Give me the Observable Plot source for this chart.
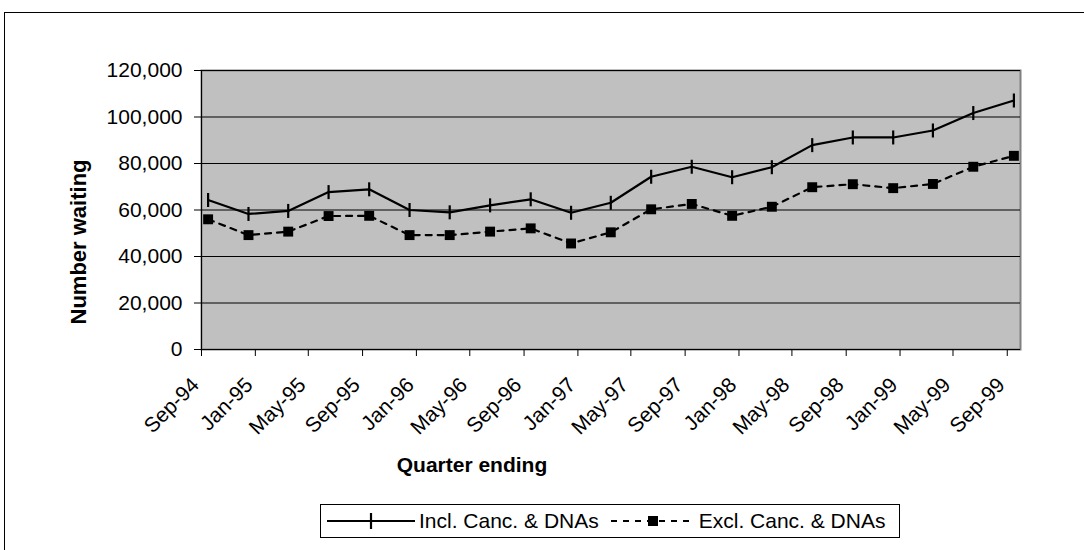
<!DOCTYPE html>
<html>
<head>
<meta charset="utf-8">
<script src="https://cdn.jsdelivr.net/npm/d3@7"></script>
<script src="https://cdn.jsdelivr.net/npm/@observablehq/plot@0.6"></script>
<style>
  body { margin: 0; background: #fff; font-family: "Liberation Sans", Arial, sans-serif; }
  #outer { position: absolute; left: 4px; top: 12px; width: 1200px; height: 700px; border-left: 1.5px solid #000; border-top: 1.5px solid #000; box-sizing: border-box; }
  #chart { position: absolute; left: 0; top: 0; }
  #ylab { position: absolute; left: 79px; top: 242px; transform: translate(-50%, -50%) rotate(-90deg); font-weight: bold; font-size: 22px; white-space: nowrap; }
  #xlab { position: absolute; left: 472px; top: 465px; transform: translate(-50%, -50%); font-weight: bold; font-size: 21px; white-space: nowrap; }
  #legend { position: absolute; left: 320px; top: 504px; width: 580px; height: 34px; border: 1px solid #000; box-sizing: border-box; display: flex; align-items: center; font-size: 21px; background: #fff; }
  #legend svg { display: block; flex: none; }
  #legend span { white-space: nowrap; }
</style>
</head>
<body>
<div id="outer"></div>
<div id="chart"></div>
<div id="ylab">Number waiting</div>
<div id="xlab">Quarter ending</div>
<div id="legend"></div>
<script>
// ---- data ----
const quarters = ["Sep-94","Dec-94","Mar-95","Jun-95","Sep-95","Dec-95","Mar-96","Jun-96","Sep-96","Dec-96","Mar-97","Jun-97","Sep-97","Dec-97","Mar-98","Jun-98","Sep-98","Dec-98","Mar-99","Jun-99","Sep-99"];
const inclCanc = [64300,58300,59600,67700,68900,60000,59000,62000,64600,58800,63100,74300,78600,74100,78400,87900,91200,91200,94200,101700,107100];
const exclCanc = [56000,49200,50700,57400,57500,49200,49200,50700,52100,45600,50400,60300,62600,57500,61400,69800,71100,69400,71200,78600,83300];
const xTickLabels = ["Sep-94","Jan-95","May-95","Sep-95","Jan-96","May-96","Sep-96","Jan-97","May-97","Sep-97","Jan-98","May-98","Sep-98","Jan-99","May-99","Sep-99"];
const yTicks = [0,20000,40000,60000,80000,100000,120000];
const seriesNames = ["Incl. Canc. & DNAs", "Excl. Canc. & DNAs"];

// ---- build ----
const parse = d3.timeParse("%b-%y");
const fmt = d3.timeFormat("%b-%y");
const midMonth = d => new Date((+d + +d3.timeMonth.offset(d, 1)) / 2);
const rowsIncl = quarters.map((q, i) => ({date: midMonth(parse(q)), value: inclCanc[i]}));
const rowsExcl = quarters.map((q, i) => ({date: midMonth(parse(q)), value: exclCanc[i]}));
const tickDates = xTickLabels.map(parse);
const xDomain = [parse(xTickLabels[0]), d3.timeMonth.offset(parse(xTickLabels[xTickLabels.length - 1]), 1)];

const vbar = {
  draw(context, size) {
    const r = Math.sqrt(size / Math.PI);
    context.moveTo(0, -r);
    context.lineTo(0, r);
  }
};

const chart = Plot.plot({
  width: 1084,
  height: 500,
  marginLeft: 201,
  marginRight: 64,
  marginTop: 70,
  marginBottom: 151,
  style: {fontFamily: "'Liberation Sans', Arial, sans-serif", fontSize: "21px", color: "#000", background: "transparent"},
  x: {type: "time", domain: xDomain},
  y: {domain: [0, 120000]},
  marks: [
    Plot.frame({fill: "#c0c0c0", stroke: "#808080", strokeWidth: 2}),
    Plot.ruleY(yTicks.slice(1), {stroke: "#000", strokeWidth: 1}),
    Plot.ruleY([0], {stroke: "#000", strokeWidth: 1}),
    Plot.ruleX([xDomain[0]], {stroke: "#000", strokeWidth: 1}),
    Plot.axisY({ticks: yTicks, tickFormat: d3.format(","), tickSize: 7, tickPadding: 12, label: null}),
    Plot.axisX({ticks: tickDates, tickFormat: fmt, tickSize: 7, label: null, text: null}),
    Plot.axisX({ticks: tickDates, tickFormat: fmt, tickRotate: -45, tickSize: 0, tickPadding: 32, dx: -6, label: null}),
    Plot.line(rowsExcl, {x: "date", y: "value", stroke: "#000", strokeWidth: 2.2, strokeDasharray: "6,6"}),
    Plot.dot(rowsExcl, {x: "date", y: "value", symbol: "square", r: 5.6, fill: "#000", stroke: "none"}),
    Plot.line(rowsIncl, {x: "date", y: "value", stroke: "#000", strokeWidth: 2.2}),
    Plot.dot(rowsIncl, {x: "date", y: "value", symbol: vbar, r: 7, fill: "none", stroke: "#000", strokeWidth: 2.2})
  ]
});
document.getElementById("chart").appendChild(chart);

// ---- legend ----
const legend = document.getElementById("legend");
legend.innerHTML = `
  <svg width="92" height="20" style="margin-left:6px"><line x1="0" y1="10" x2="88" y2="10" stroke="#000" stroke-width="2"/><line x1="44" y1="2" x2="44" y2="18" stroke="#000" stroke-width="2.2"/></svg>
  <span>${seriesNames[0]}</span>
  <svg width="100" height="20"><line x1="12" y1="10" x2="96" y2="10" stroke="#000" stroke-width="2.2" stroke-dasharray="6,6"/><rect x="49" y="5" width="10" height="10" fill="#000"/></svg>
  <span>${seriesNames[1]}</span>`;
</script>
</body>
</html>
